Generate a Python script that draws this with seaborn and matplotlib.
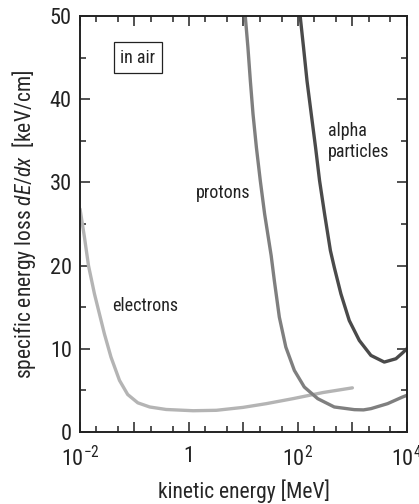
import numpy as np
import pandas as pd
import matplotlib
matplotlib.use("Agg")
import matplotlib.pyplot as plt
import matplotlib.ticker as mticker
import seaborn as sns

# kinetic energy [MeV] and dE/dx [keV/cm]
e_energy = [0.01, 0.012, 0.0143, 0.0184, 0.0227, 0.028, 0.037, 0.053, 0.075, 0.115,
            0.19, 0.38, 1.19, 3.18, 9.8, 26.3, 81, 290, 1000]
e_dedx = [26.8, 23.5, 20.0, 16.6, 14.2, 11.8, 9.0, 6.2, 4.5, 3.5,
          3.0, 2.7, 2.55, 2.6, 2.95, 3.4, 4.0, 4.74, 5.3]

p_energy = [10.8, 12.1, 13.4, 15, 17.3, 20.4, 24.5, 32.3, 36.9, 45.6, 60, 86, 131,
            231, 465, 1085, 1600, 2190, 4430, 8330, 10000]
p_dedx = [50.0, 46.2, 42.2, 38.2, 34.2, 30.2, 26.2, 21.2, 18.2, 13.8, 10.2, 7.4, 5.4,
          4.0, 3.0, 2.68, 2.65, 2.8, 3.4, 4.2, 4.4]

a_energy = [110, 127, 147, 176, 211, 250, 309, 395, 465, 616, 876, 1340, 2190,
            3850, 6300, 8330, 10000]
a_dedx = [50.0, 46.2, 42.2, 38.2, 34.2, 30.2, 26.2, 21.8, 19.8, 16.6, 13.4, 11.0, 9.2,
          8.4, 8.8, 9.5, 10.0]

series = ["electrons", "protons", "alpha particles"]
colors = {"electrons": "#b4b4b4", "protons": "#7f7f7f", "alpha particles": "#4a4a4a"}

df = pd.concat([
    pd.DataFrame({"energy": e_energy, "dedx": e_dedx, "particle": "electrons"}),
    pd.DataFrame({"energy": p_energy, "dedx": p_dedx, "particle": "protons"}),
    pd.DataFrame({"energy": a_energy, "dedx": a_dedx, "particle": "alpha particles"}),
])

sns.set_style("ticks")
plt.rcParams["font.family"] = ["Roboto Condensed", "Roboto", "DejaVu Sans"]
plt.rcParams["mathtext.fontset"] = "custom"
plt.rcParams["mathtext.rm"] = "Roboto Condensed"
plt.rcParams["mathtext.it"] = "Roboto Condensed:italic"
plt.rcParams["text.color"] = "#222222"

fig = plt.figure(figsize=(4.19, 5.04), dpi=100)
ax = fig.add_axes([0.191, 0.143, 0.780, 0.825])

ax.set_xscale("log")
sns.lineplot(data=df, x="energy", y="dedx", hue="particle", hue_order=series,
             palette=colors, linewidth=2.4, legend=False, sort=False,
             estimator=None, ax=ax)

ax.set_xlim(1e-2, 1e4)
ax.set_ylim(0, 50)

ax.xaxis.set_major_locator(mticker.FixedLocator([10.0 ** k for k in range(-2, 5)]))
ax.xaxis.set_major_formatter(mticker.FixedFormatter(
    [r"$10^{-2}$", "", "1", "", r"$10^{2}$", "", r"$10^{4}$"]))
ax.xaxis.set_minor_locator(mticker.LogLocator(base=10, subs=(2, 5), numticks=20))
ax.xaxis.set_minor_formatter(mticker.NullFormatter())
ax.yaxis.set_major_locator(mticker.MultipleLocator(10))
ax.yaxis.set_minor_locator(mticker.MultipleLocator(5))

ax.tick_params(which="both", direction="in", top=True, right=True, width=1.1,
               labelsize=16, colors="#222222")
ax.tick_params(axis="x", pad=10)
ax.tick_params(axis="y", pad=6)
ax.tick_params(which="major", length=7)
ax.tick_params(which="minor", length=4)
for s in ax.spines.values():
    s.set_linewidth(1.4)
    s.set_color("#222222")
    s.set_visible(True)

ax.set_xlabel("kinetic energy [MeV]", fontsize=15.5, labelpad=6)
ax.set_ylabel(r"specific energy loss $dE/dx$  [keV/cm]", fontsize=15.5, labelpad=8)

ax.text(0.115, 45, "in air", fontsize=13, ha="center", va="center",
        bbox=dict(boxstyle="square,pad=0.35", fc="white", ec="#222222", lw=0.9))
ax.text(0.039, 15.2, "electrons", fontsize=13, ha="left", va="center")
ax.text(4.15, 28.7, "protons", fontsize=13, ha="center", va="center")
ax.text(355, 34.9, "alpha\nparticles", fontsize=13, ha="left", va="center",
        linespacing=1.2)

fig.savefig("out.png", dpi=100)
